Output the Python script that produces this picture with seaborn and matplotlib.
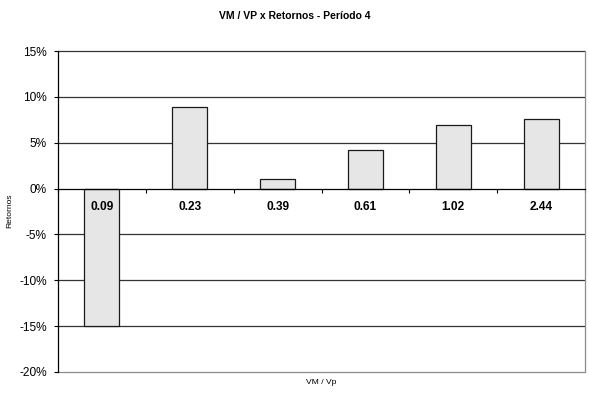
import numpy as np
import pandas as pd
import matplotlib
matplotlib.use("Agg")
import matplotlib.pyplot as plt
from matplotlib.ticker import PercentFormatter
import seaborn as sns

# Portfolio groups by market-to-book ratio and their returns
categorias = ["0.09", "0.23", "0.39", "0.61", "1.02", "2.44"]
retornos = [-0.150, 0.0887, 0.010, 0.042, 0.069, 0.076]
y_ticks = [-0.20, -0.15, -0.10, -0.05, 0.0, 0.05, 0.10, 0.15]

titulo = "VM / VP x Retornos - Período 4"
rotulo_x = "VM / Vp"
rotulo_y = "Retornos"

sns.set_theme(style="white")
plt.rcParams["font.family"] = ["Liberation Sans", "DejaVu Sans"]
plt.rcParams["axes.unicode_minus"] = False

df = pd.DataFrame({"grupo": categorias, "retorno": retornos})

fig = plt.figure(figsize=(5.89, 3.96), dpi=100)
ax = fig.add_axes([58 / 589, 1 - 372 / 396, (585 - 58) / 589, (372 - 51) / 396])

sns.barplot(data=df, x="grupo", y="retorno", order=categorias, ax=ax,
            color="#e6e6e6", saturation=1, width=0.4,
            edgecolor="#1a1a1a", linewidth=0.9, zorder=3)

ax.set_ylim(y_ticks[0], y_ticks[-1])
ax.set_xlim(-0.5, len(categorias) - 0.5)

# Horizontal gridlines at each 5%
for v in y_ticks:
    if v == y_ticks[0]:
        c = "#8c8c8c"
    elif v == 0:
        continue
    else:
        c = "#333333"
    ax.axhline(v, color=c, lw=0.9, zorder=1, clip_on=False)

ax.set_yticks(y_ticks)
ax.yaxis.set_major_formatter(PercentFormatter(1, decimals=0))
ax.tick_params(axis="y", direction="out", length=3, width=0.8, pad=5,
               labelsize=8.6, colors="black", left=True)

# Category axis sits on the zero line, ticks between groups
ax.spines["bottom"].set_position(("data", 0))
ax.spines["bottom"].set_color("black")
ax.spines["bottom"].set_linewidth(0.9)
ax.spines["bottom"].set_zorder(4)
ax.set_xticks(np.arange(-0.5, len(categorias), 1.0))
ax.set_xticklabels([])
ax.tick_params(axis="x", direction="out", length=3, width=0.8,
               colors="black", bottom=True)

ax.spines["left"].set_color("black")
ax.spines["left"].set_linewidth(0.9)
ax.spines["right"].set_color("#8c8c8c")
ax.spines["right"].set_linewidth(0.9)
ax.spines["top"].set_visible(False)

for i, lbl in enumerate(categorias):
    ax.annotate(lbl, (i, 0), xytext=(0, -13), textcoords="offset points",
                ha="center", va="center", fontsize=8.6, fontweight="bold",
                color="black", zorder=5)

ax.set_xlabel("")
ax.set_ylabel("")
fig.text(320.7 / 589, 1 - 382 / 396, rotulo_x, ha="center", va="center",
         fontsize=6.1, color="black")
fig.text(10 / 589, 1 - 211 / 396, rotulo_y, ha="center", va="center",
         rotation=90, fontsize=6.1, color="black")
fig.text(294.5 / 589, 1 - 16 / 396, titulo, ha="center", va="center",
         fontsize=7.5, fontweight="bold", color="black")

fig.savefig("out.png", dpi=100, facecolor="white")
